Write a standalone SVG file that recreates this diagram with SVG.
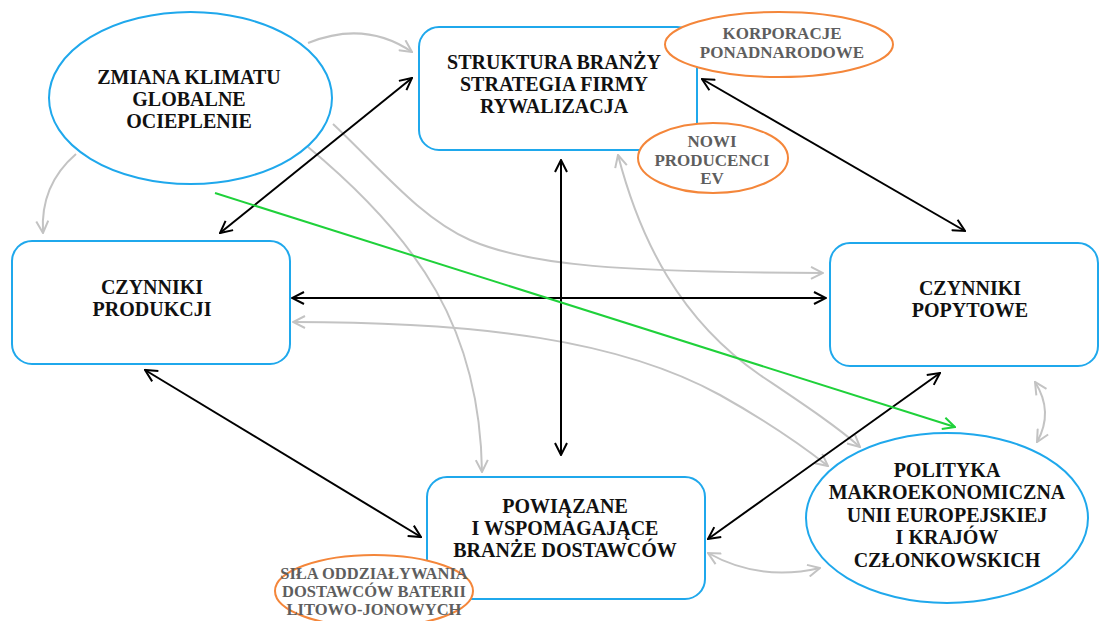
<svg xmlns="http://www.w3.org/2000/svg" width="1099" height="621" viewBox="0 0 1099 621">
<style>
.box{fill:#fff;stroke:#1fa8ec;stroke-width:2}
.org{fill:#fff;stroke:#f4863a;stroke-width:2}
.t{font-family:"Liberation Serif","Times New Roman",serif;font-weight:bold;font-size:20px;fill:#111;text-anchor:middle}
.g{font-family:"Liberation Serif","Times New Roman",serif;font-weight:bold;font-size:17px;fill:#5e5e5e;text-anchor:middle}
.k{fill:none;stroke:#000;stroke-width:2}
.gr{fill:none;stroke:#c3c3c3;stroke-width:2}
.gn{fill:none;stroke:#1fd13a;stroke-width:2}
</style>
<defs>
<marker id="ak" viewBox="0 0 14 14" refX="13" refY="7" markerWidth="14" markerHeight="14" markerUnits="userSpaceOnUse" orient="auto-start-reverse"><path d="M1,1 L13,7 L1,13" fill="none" stroke="#000" stroke-width="2"/></marker>
<marker id="ag" viewBox="0 0 14 14" refX="13" refY="7" markerWidth="14" markerHeight="14" markerUnits="userSpaceOnUse" orient="auto-start-reverse"><path d="M1,1 L13,7 L1,13" fill="none" stroke="#c3c3c3" stroke-width="2"/></marker>
<marker id="an" viewBox="0 0 14 14" refX="13" refY="7" markerWidth="14" markerHeight="14" markerUnits="userSpaceOnUse" orient="auto-start-reverse"><path d="M1,1 L13,7 L1,13" fill="none" stroke="#1fd13a" stroke-width="2"/></marker>
</defs>
<rect width="1099" height="621" fill="#fff"/>

<g id="connectors">
<path class="gr" d="M308,43 Q365,20 412,52" marker-end="url(#ag)"/>
<path class="gr" d="M76,154 Q40,185 43,233" marker-end="url(#ag)"/>
<path class="gr" d="M333,124 C380,168 420,218 470,240 C530,266 620,272 823,273" marker-end="url(#ag)"/>
<path class="gr" d="M308,147 C420,240 480,330 482,472" marker-end="url(#ag)"/>
<path class="gr" d="M293,322 C480,322 620,340 720,395 C770,423 805,448 828,466" marker-start="url(#ag)" marker-end="url(#ag)"/>
<path class="gr" d="M618,155 C640,240 680,320 760,375 C800,402 835,425 860,447" marker-start="url(#ag)" marker-end="url(#ag)"/>
<path class="gr" d="M1035,382 Q1054,412 1037,442" marker-start="url(#ag)" marker-end="url(#ag)"/>
<path class="gr" d="M708,553 Q760,582 820,568" marker-start="url(#ag)" marker-end="url(#ag)"/>
<path class="k" d="M412,78 L220,233" marker-start="url(#ak)" marker-end="url(#ak)"/>
<path class="k" d="M702,79 L965,231" marker-start="url(#ak)" marker-end="url(#ak)"/>
<path class="k" d="M292,298 L826,298" marker-start="url(#ak)" marker-end="url(#ak)"/>
<path class="k" d="M561,160 L561,455" marker-start="url(#ak)" marker-end="url(#ak)"/>
<path class="k" d="M145,370 L421,537" marker-start="url(#ak)" marker-end="url(#ak)"/>
<path class="k" d="M940,373 L708,539" marker-start="url(#ak)" marker-end="url(#ak)"/>
<path class="gn" d="M215,193 L955,427" marker-end="url(#an)"/>
</g>

<g id="zmiana">
<ellipse class="box" cx="190.5" cy="98" rx="141.5" ry="86"/>
<text class="t" x="189" y="84">ZMIANA KLIMATU</text>
<text class="t" x="189" y="106">GLOBALNE</text>
<text class="t" x="189" y="128">OCIEPLENIE</text>
</g>

<g id="struktura">
<rect class="box" x="419" y="27" width="278" height="123" rx="20"/>
<text class="t" x="554" y="69">STRUKTURA BRANŻY</text>
<text class="t" x="554" y="91">STRATEGIA FIRMY</text>
<text class="t" x="554" y="113">RYWALIZACJA</text>
</g>

<g id="korporacje">
<ellipse class="org" cx="779" cy="44.5" rx="114" ry="32.5"/>
<text class="g" x="782" y="39">KORPORACJE</text>
<text class="g" x="782" y="58">PONADNARODOWE</text>
</g>

<g id="nowi">
<ellipse class="org" cx="713" cy="158" rx="75" ry="35"/>
<text class="g" x="712" y="147">NOWI</text>
<text class="g" x="712" y="166">PRODUCENCI</text>
<text class="g" x="712" y="184">EV</text>
</g>

<g id="produkcji">
<rect class="box" x="12" y="241" width="278" height="123" rx="20"/>
<text class="t" x="152" y="294">CZYNNIKI</text>
<text class="t" x="152" y="316">PRODUKCJI</text>
</g>

<g id="popytowe">
<rect class="box" x="830" y="243" width="268" height="123" rx="20"/>
<text class="t" x="970" y="295">CZYNNIKI</text>
<text class="t" x="970" y="317">POPYTOWE</text>
</g>

<g id="powiazane">
<rect class="box" x="427" y="477" width="278" height="122" rx="20"/>
<text class="t" x="565" y="513">POWIĄZANE</text>
<text class="t" x="565" y="535">I WSPOMAGAJĄCE</text>
<text class="t" x="565" y="557">BRANŻE DOSTAWCÓW</text>
</g>

<g id="sila">
<ellipse class="org" cx="374" cy="591" rx="99" ry="36"/>
<text class="g" x="374" y="579" style="font-size:16.5px">SIŁA ODDZIAŁYWANIA</text>
<text class="g" x="374" y="597" style="font-size:16.5px">DOSTAWCÓW BATERII</text>
<text class="g" x="374" y="615" style="font-size:16.5px">LITOWO-JONOWYCH</text>
</g>

<g id="polityka">
<ellipse class="box" cx="947" cy="518" rx="141" ry="85"/>
<text class="t" x="947" y="477">POLITYKA</text>
<text class="t" x="947" y="499">MAKROEKONOMICZNA</text>
<text class="t" x="947" y="522">UNII EUROPEJSKIEJ</text>
<text class="t" x="947" y="544">I KRAJÓW</text>
<text class="t" x="947" y="567">CZŁONKOWSKICH</text>
</g>
</svg>
